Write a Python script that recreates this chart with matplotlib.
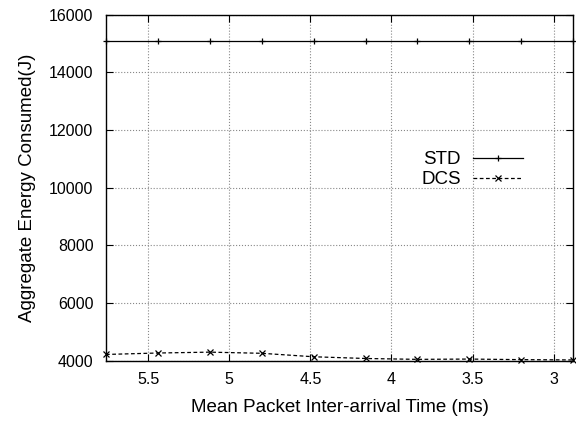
import numpy as np
import matplotlib
matplotlib.use("Agg")
import matplotlib.pyplot as plt

plt.rcParams['font.family'] = ['Liberation Sans', 'DejaVu Sans']

# mean packet inter-arrival time (ms)
x_ms = [5.76, 5.44, 5.12, 4.80, 4.48, 4.16, 3.84, 3.52, 3.20, 2.88]
std_energy = [15100, 15100, 15100, 15100, 15100, 15100, 15100, 15100, 15100, 15100]
dcs_energy = [4220, 4270, 4300, 4260, 4140, 4080, 4050, 4060, 4040, 4030]

fig = plt.figure(figsize=(5.76, 4.21), dpi=100)
ax = fig.add_axes([0.184, 0.143, 0.811, 0.822])

ax.plot(x_ms, std_energy, color='black', lw=0.9, ls='-', marker='+', ms=5,
        mew=0.9, label='STD', clip_on=False)
ax.plot(x_ms, dcs_energy, color='black', lw=0.9, ls=(0, (3, 2)), marker='x',
        ms=4, mew=0.9, label='DCS', clip_on=False)

ax.set_xlim(5.76, 2.88)
ax.set_ylim(4000, 16000)
ax.set_xticks([5.5, 5, 4.5, 4, 3.5, 3])
ax.set_xticklabels(['5.5', '5', '4.5', '4', '3.5', '3'])
ax.set_yticks(np.arange(4000, 16001, 2000))

ax.grid(True, color='#888888', ls=':', lw=0.8)
ax.tick_params(direction='in', top=True, right=True, length=5, labelsize=11.5)
ax.tick_params(axis='y', pad=9)
ax.tick_params(axis='x', pad=8)
for s in ax.spines.values():
    s.set_linewidth(1.0)

ax.set_xlabel('Mean Packet Inter-arrival Time (ms)', fontsize=13.5, labelpad=9)
ax.set_ylabel('Aggregate Energy Consumed(J)', fontsize=13.5, labelpad=9)

ax.legend(loc='upper right', bbox_to_anchor=(0.893, 0.606), frameon=False,
          markerfirst=False, fontsize=13.5, handlelength=2.67,
          handletextpad=0.64, labelspacing=0.15, borderaxespad=0,
          borderpad=0)

fig.savefig('out.png', dpi=100)
